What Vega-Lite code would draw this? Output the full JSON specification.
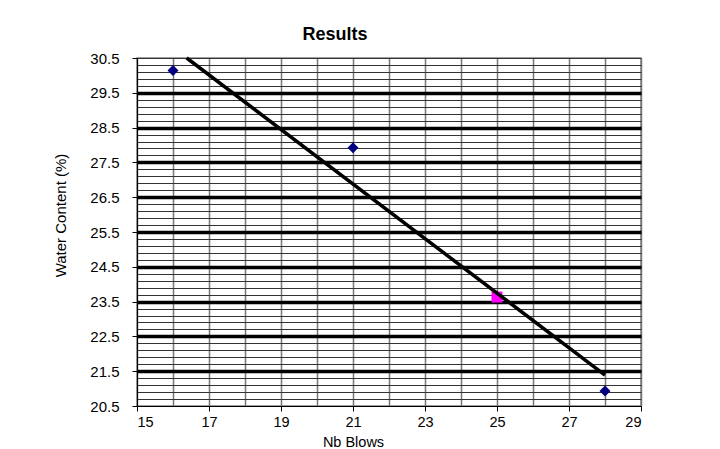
{
  "$schema": "https://vega.github.io/schema/vega-lite/v6.json",
  "width": 504,
  "height": 348,
  "autosize": {"type": "none"},
  "padding": {"left": 137, "top": 58, "right": 79, "bottom": 43},
  "background": "white",
  "config": {
    "font": "Liberation Sans",
    "view": {"stroke": "#808080", "strokeWidth": 1.5},
    "axis": {"labelFont": "Liberation Sans", "titleFont": "Liberation Sans", "labelColor": "black", "titleColor": "black", "titleFontWeight": "normal"}
  },
  "title": {
    "text": "Results",
    "font": "Liberation Sans",
    "fontSize": 18,
    "fontWeight": "bold",
    "color": "black",
    "frame": "group",
    "anchor": "middle",
    "dx": -54,
    "dy": 31,
    "baseline": "alphabetic",
    "offset": 24
  },
  "datasets": {
    "measured": [
      {"blows": 16, "wc": 30.14},
      {"blows": 21, "wc": 27.92},
      {"blows": 28, "wc": 20.93}
    ],
    "liquid_limit": [
      {"blows": 25, "wc": 23.63}
    ],
    "trend": [
      {"blows": 16.38, "wc": 30.5},
      {"blows": 28, "wc": 21.39}
    ]
  },
  "encoding": {
    "x": {
      "field": "blows",
      "type": "quantitative",
      "scale": {"domain": [15, 29], "nice": false, "zero": false},
      "axis": {
        "title": "Nb Blows",
        "titleFontSize": 14.5,
        "titleX": 216,
        "titleY": 40,
        "titleBaseline": "alphabetic",
        "titleAlign": "center",
        "values": [15, 16, 17, 18, 19, 20, 21, 22, 23, 24, 25, 26, 27, 28, 29],
        "labelExpr": "datum.value % 2 == 1 ? datum.label : ''",
        "labelOverlap": false,
        "labelFontSize": 14.5,
        "labelPadding": 4,
        "tickSize": 5,
        "tickColor": "black",
        "tickOpacity": {"condition": {"test": "datum.value % 2 == 1", "value": 1}, "value": 0},
        "domainColor": "black",
        "domainWidth": 1,
        "grid": true,
        "gridColor": "#777777",
        "gridWidth": 1.5,
        "gridOpacity": 1
      }
    },
    "y": {
      "field": "wc",
      "type": "quantitative",
      "scale": {"domain": [20.5, 30.5], "nice": false, "zero": false},
      "axis": {
        "title": "Water Content (%)",
        "titleFontSize": 15,
        "titleX": -72,
        "titleY": 157,
        "titleAngle": -90,
        "titleBaseline": "alphabetic",
        "titleAlign": "center",
        "values": [20.5, 20.7, 20.9, 21.1, 21.3, 21.5, 21.7, 21.9, 22.1, 22.3, 22.5, 22.7, 22.9, 23.1, 23.3, 23.5, 23.7, 23.9, 24.1, 24.3, 24.5, 24.7, 24.9, 25.1, 25.3, 25.5, 25.7, 25.9, 26.1, 26.3, 26.5, 26.7, 26.9, 27.1, 27.3, 27.5, 27.7, 27.9, 28.1, 28.3, 28.5, 28.7, 28.9, 29.1, 29.3, 29.5, 29.7, 29.9, 30.1, 30.3, 30.5],
        "labelExpr": "abs(datum.value - floor(datum.value) - 0.5) < 0.01 ? format(datum.value, '.1f') : ''",
        "labelOverlap": false,
        "labelFontSize": 15,
        "labelPadding": 13,
        "tickSize": 5,
        "tickColor": "black",
        "tickOpacity": {"condition": {"test": "abs(datum.value - floor(datum.value) - 0.5) < 0.01", "value": 1}, "value": 0},
        "domainColor": "black",
        "domainWidth": 1,
        "grid": true,
        "gridColor": {"condition": {"test": "abs(datum.value - floor(datum.value) - 0.5) < 0.01 && datum.value > 21 && datum.value < 30", "value": "black"}, "value": "#333333"},
        "gridWidth": {"condition": {"test": "abs(datum.value - floor(datum.value) - 0.5) < 0.01 && datum.value > 21 && datum.value < 30", "value": 3.5}, "value": 1},
        "gridOpacity": 1
      }
    }
  },
  "layer": [
    {
      "data": {"name": "liquid_limit"},
      "mark": {"type": "point", "shape": "square", "filled": true, "size": 121, "color": "#FF00FF", "opacity": 1}
    },
    {
      "data": {"name": "trend"},
      "mark": {"type": "line", "color": "black", "strokeWidth": 3.5},
      "encoding": {}
    },
    {
      "data": {"name": "measured"},
      "mark": {"type": "point", "shape": "diamond", "filled": true, "size": 121, "color": "#000080", "opacity": 1}
    }
  ]
}
